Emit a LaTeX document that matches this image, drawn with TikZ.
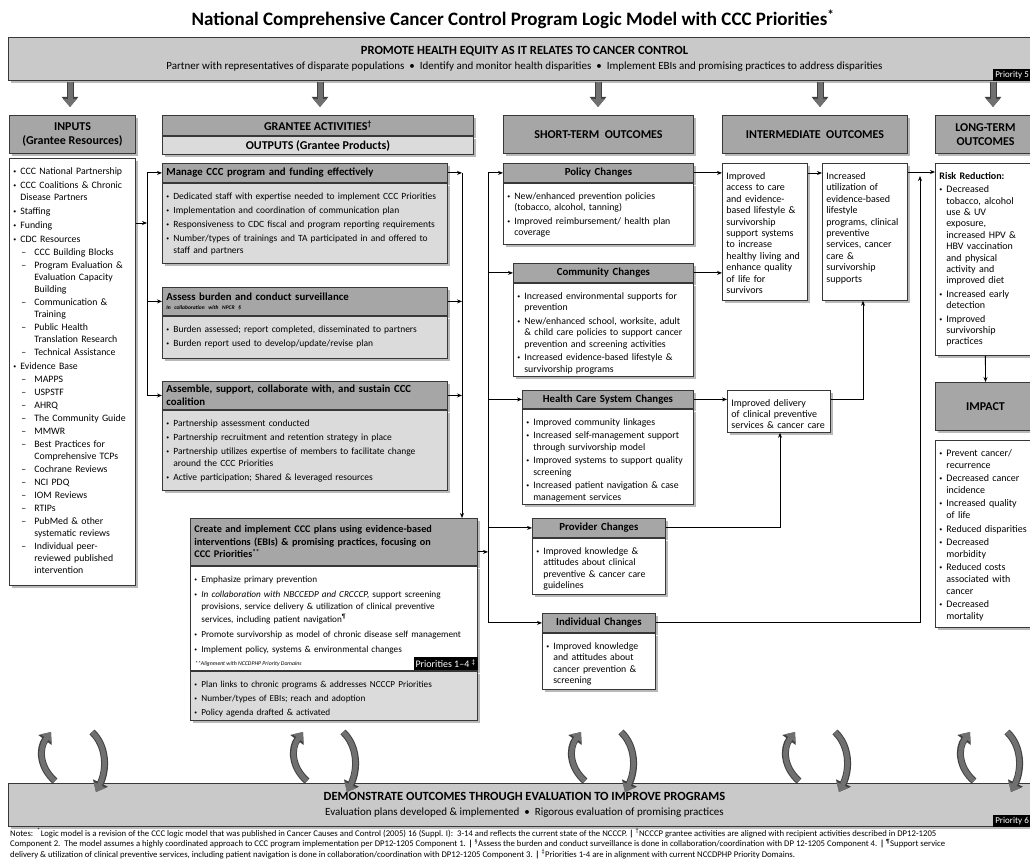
\documentclass[tikz,border=0pt]{standalone}
\usepackage{fontspec}
\setmainfont{Carlito}
\usetikzlibrary{arrows.meta, positioning, shadows, calc}

\definecolor{bandgray}{HTML}{C9C9C9}
\definecolor{headgray}{HTML}{A6A6A6}
\definecolor{bodygray}{HTML}{DBDBDB}
\definecolor{edgegray}{HTML}{383838}
\definecolor{fatgray}{HTML}{707070}

% bullet and dash items with hanging indent
\newcommand{\itemgap}{2pt}
\newcommand{\bul}[1]{\parskip=\itemgap\hangindent=7pt\hangafter=1\noindent\hbox to 7pt{\raisebox{1pt}{\scalebox{0.6}{\textbullet}}\hfil}{\let\\\newline #1}\par}
\newcommand{\dsh}[1]{\parskip=1pt\hangindent=21pt\hangafter=1\noindent\hbox to 8pt{}\hbox to 13pt{--\hfil}{\let\\\newline #1}\par}

\begin{document}
\begin{tikzpicture}[x=1pt, y=-1pt,
    dropshade/.style={drop shadow={shadow xshift=2.5pt, shadow yshift=-2.5pt, fill=black!55}},
    band/.style={draw=edgegray, fill=bandgray, line width=1pt, dropshade, anchor=north west, align=center},
    colhead/.style={draw=edgegray, fill=headgray, line width=1pt, dropshade, anchor=north west, align=center, font=\bfseries\fontsize{12}{14}\selectfont},
    boxhead/.code 2 args={\pgfmathsetmacro\bw{#1-8}\tikzset{draw=edgegray, fill=headgray, line width=0.8pt, dropshade, anchor=north west, align=left, inner sep=4pt, minimum width=#1, minimum height=#2, text width=\bw pt, font=\bfseries\fontsize{10.8}{12.5}\selectfont}},
    boxbody/.code 2 args={\pgfmathsetmacro\bw{#1-8}\pgfmathsetmacro\bd{#2-20}\tikzset{draw=edgegray, fill=white, line width=0.8pt, dropshade, anchor=north west, align=left, inner sep=4pt, text width=\bw pt, text height=12pt, text depth=\bd pt, font=\fontsize{9.8}{11.5}\selectfont}},
    link/.style={-{Stealth[length=5pt, width=4pt]}, line width=0.9pt},
    fat/.style={preaction={draw=black!75, line width=7pt, -{Triangle[length=10pt, width=16pt]}}, line width=5pt, draw=fatgray, -{Triangle[length=8pt, width=13pt]}},
    prio/.style={fill=black, text=white, inner sep=2pt, anchor=south east, font=\fontsize{9}{10}\selectfont}
]
\useasboundingbox (0,0) rectangle (1030,861);

% Title
\node[font=\bfseries\fontsize{19}{22}\selectfont] (title) at (513,19) {National Comprehensive Cancer Control Program Logic Model with CCC Priorities\textsuperscript{*}};

% Health equity band - Priority 5
\node[band, minimum width=1032, minimum height=43] (equity) at (8,37) {{\bfseries\fontsize{12.5}{13}\selectfont PROMOTE HEALTH EQUITY AS IT RELATES TO CANCER CONTROL}\\[3pt]{\fontsize{11}{12}\selectfont Partner with representatives of disparate populations \ \textbullet\ \ Identify and monitor health disparities \ \textbullet\ \ Implement EBIs and promising practices to address disparities}};
\node[prio] (prio5) at ([xshift=-10pt]equity.south east) {Priority 5};
\foreach \x in {70,320,598,820,993} {
    \draw[fat] (\x,82) -- (\x,107);
}

% Column headers
\node[colhead, minimum width=126, minimum height=38] (inputs) at (9,115) {INPUTS\\(Grantee Resources)};
\node[colhead, minimum width=311, minimum height=20] (activities) at (162,115) {GRANTEE ACTIVITIES\textsuperscript{\textdagger}};
\node[colhead, fill=bodygray, minimum width=311, minimum height=18] (outputs) at (activities.south west) {OUTPUTS (Grantee Products)};
\node[colhead, minimum width=190, minimum height=38] (shortterm) at (503,115) {SHORT-TERM\ \ OUTCOMES};
\node[colhead, minimum width=185, minimum height=38] (interm) at (722,115) {INTERMEDIATE\ \ OUTCOMES};
\node[colhead, minimum width=100, minimum height=38] (longterm) at (935,115) {LONG-TERM\\OUTCOMES};

% Inputs list
\node[boxbody={126}{427}, font=\fontsize{9.8}{12}\selectfont] (resources) at (9,158) {\bul{CCC National Partnership}
    \bul{CCC Coalitions \& Chronic\\Disease Partners}
    \bul{Staffing}
    \bul{Funding}
    \bul{CDC Resources}
    \dsh{CCC Building Blocks}
    \dsh{Program Evaluation \&\\Evaluation Capacity\\Building}
    \dsh{Communication \&\\Training}
    \dsh{Public Health\\Translation Research}
    \dsh{Technical Assistance}
    \bul{Evidence Base}
    \dsh{MAPPS}
    \dsh{USPSTF}
    \dsh{AHRQ}
    \dsh{The Community Guide}
    \dsh{MMWR}
    \dsh{Best Practices for\\Comprehensive TCPs}
    \dsh{Cochrane Reviews}
    \dsh{NCI PDQ}
    \dsh{IOM Reviews}
    \dsh{RTIPs}
    \dsh{PubMed \& other\\systematic reviews}
    \dsh{Individual peer-\\reviewed published\\intervention}};

% Grantee activities and outputs
\node[boxhead={285}{19}] (manage) at (162,163) {Manage CCC program and funding effectively};
\node[boxbody={285}{80}, fill=bodygray, font=\fontsize{9.5}{12}\selectfont] (managebody) at (manage.south west) {\bul{Dedicated staff with expertise needed to implement CCC Priorities}
    \bul{Implementation and coordination of communication plan}
    \bul{Responsiveness\ to CDC fiscal and program reporting requirements}
    \bul{Number/types of trainings and TA participated in and offered to\\staff and partners}};

\node[boxhead={285}{28}] (assess) at (162,287) {Assess burden and conduct surveillance\\[-3pt]{\fontsize{5.5}{6}\selectfont\itshape In collaboration with NPCR \S}};
\node[boxbody={285}{42}, fill=bodygray, font=\fontsize{9.5}{12}\selectfont] (assessbody) at (assess.south west) {\bul{Burden assessed; report completed, disseminated to partners}
    \bul{Burden report used to develop/update/revise plan}};

\node[boxhead={285}{27}] (assemble) at (162,381) {Assemble, support, collaborate with, and sustain CCC\\coalition};
\node[boxbody={285}{80}, fill=bodygray, font=\fontsize{9.5}{12}\selectfont] (assemblebody) at (assemble.south west) {\bul{Partnership assessment conducted}
    \bul{Partnership recruitment and retention strategy in place}
    \bul{Partnership utilizes expertise of members to facilitate change\\around the CCC Priorities}
    \bul{Active participation; Shared \& leveraged resources}};

\node[boxhead={287}{47}, font=\bfseries\fontsize{10.2}{12.5}\selectfont] (create) at (190,518) {Create and implement CCC plans using evidence-based\\interventions (EBIs) \& promising practices, focusing on\\CCC Priorities\textsuperscript{**}};
\node[boxbody={287}{104}, font=\fontsize{9.2}{12.3}\selectfont\def\itemgap{3pt}] (createbody) at (create.south west) {\bul{Emphasize primary prevention}
    \bul{\textit{In collaboration with NBCCEDP and CRCCCP,} support screening\\provisions,\ service delivery \& utilization of clinical preventive\\services, including patient navigation\textsuperscript{\P}}
    \bul{Promote survivorship as model of chronic disease self management}
    \bul{Implement policy, systems \& environmental changes}};
\node[anchor=south west, inner sep=0pt, font=\fontsize{5.8}{7}\selectfont\itshape] (alignnote) at ([xshift=5pt, yshift=4pt]createbody.south west) {**Alignment with NCCDPHP Priority Domains};
\node[prio, font=\fontsize{10}{11}\selectfont] (prio14) at ([yshift=0.5pt]createbody.south east) {Priorities 1--4 \textsuperscript{\textdaggerdbl}};
\node[boxbody={287}{49}, fill=bodygray, font=\fontsize{9.2}{12}\selectfont] (createout) at (createbody.south west) {\bul{Plan links to chronic programs \& addresses NCCCP Priorities}
    \bul{Number/types of EBIs; reach and adoption}
    \bul{Policy agenda drafted \& activated}};

% Short-term outcomes
\node[boxhead={190}{19}, align=center] (policy) at (503,163) {Policy Changes};
\node[boxbody={190}{61}] (policybody) at (policy.south west) {\bul{New/enhanced prevention policies\\(tobacco, alcohol, tanning)}
    \bul{Improved reimbursement/ health plan\\coverage}};

\node[boxhead={180}{19}, align=center] (community) at (513,263) {Community Changes};
\node[boxbody={180}{93}] (communitybody) at (community.south west) {\bul{Increased environmental supports for\\prevention}
    \bul{New/enhanced school, worksite, adult\\\& child care policies to support\ cancer\\prevention and screening activities}
    \bul{Increased evidence-based lifestyle \&\\survivorship programs}};

\node[boxhead={171}{18}, align=center] (health) at (522,390) {Health Care System Changes};
\node[boxbody={171}{95}] (healthbody) at (health.south west) {\bul{Improved community linkages}
    \bul{Increased self-management support\\through survivorship model}
    \bul{Improved systems to support\ quality\\screening}
    \bul{Increased patient navigation \& case\\management services}};

\node[boxhead={133}{19}, align=center] (provider) at (532,518) {Provider Changes};
\node[boxbody={133}{56}] (providerbody) at (provider.south west) {\bul{Improved knowledge \&\\attitudes about clinical\\preventive \& cancer care\\guidelines}};

\node[boxhead={113}{19}, align=center] (individual) at (542,613) {Individual Changes};
\node[boxbody={113}{56}] (individualbody) at (individual.south west) {\bul{Improved knowledge\\and attitudes about\\cancer prevention \&\\screening}};

% Intermediate outcomes
\node[boxbody={85}{137}, font=\fontsize{10}{11.4}\selectfont] (access) at (722,163) {Improved\\access to care\\and evidence-\\based lifestyle \&\\survivorship\\support systems\\to increase\\healthy living and\\enhance quality\\of life for\\survivors};
\node[boxbody={85}{137}, font=\fontsize{10}{11.4}\selectfont] (utilize) at (822,163) {Increased\\utilization of\\evidence-based\\lifestyle\\programs, clinical\\preventive\\services, cancer\\care \&\\survivorship\\supports};
\node[boxbody={103}{42}, font=\fontsize{10}{11.2}\selectfont] (delivery) at (727,390) {Improved delivery\\of clinical preventive\\services \& cancer care};

% Long-term outcomes and impact
\node[boxbody={100}{192}, font=\fontsize{10}{11.4}\selectfont] (risk) at (935,163) {\textbf{Risk Reduction:}\par
    \bul{Decreased\\tobacco, alcohol\\use \& UV\\exposure,\\increased HPV \&\\HBV vaccination\\and physical\\activity and\\improved diet}
    \bul{Increased early\\detection}
    \bul{Improved\\survivorship\\practices}};
\node[colhead, minimum width=100, minimum height=48] (impact) at (935,382) {IMPACT};
\node[boxbody={100}{187}, font=\fontsize{10}{11.6}\selectfont] (impactbody) at (935,440) {\bul{Prevent cancer/\\recurrence}
    \bul{Decreased cancer\\incidence}
    \bul{Increased quality\\of life}
    \bul{Reduced disparities}
    \bul{Decreased\\morbidity}
    \bul{Reduced costs\\associated with\\cancer}
    \bul{Decreased\\mortality}};

% Inputs feed the three activity boxes
\coordinate (inbus) at (147,223);
\draw[link] (resources.east |- inbus) -- (inbus);
\draw[line width=0.9pt] (inbus |- manage.west) -- (inbus |- assemble.west);
\foreach \n in {manage, assess, assemble} {
    \draw[link] (inbus |- \n.west) -- (\n.west);
}

% Activities collect into the CCC plan box
\coordinate (outbus) at (462,0);
\foreach \n in {manage, assess, assemble} {
    \draw[link] (\n.east) -- (outbus |- \n.east);
}
\draw[link] (outbus |- manage.east) -- (outbus |- create.north);

% Plan box feeds the short-term outcomes
\coordinate (stbus) at (488,0);
\coordinate (createout) at ([yshift=-10pt]create.east);
\draw[link] (createout) -- (stbus |- createout);
\draw[line width=0.9pt] (stbus |- policy.west) -- (stbus |- individual.west);
\foreach \n in {policy, community, health, provider, individual} {
    \draw[link] (stbus |- \n.west) -- (\n.west);
}

% Short-term to intermediate
\draw[link] (policy.east) -- (policy.east -| access.west);
\draw[link] (community.east) -- (community.east -| access.west);
\draw[link] (health.east) -- (health.east -| delivery.west);
\coordinate (provturn) at (780,0);
\draw[link] (provider.east) -- (provturn |- provider.east) -- (provturn |- delivery.south);

% Intermediate to long-term
\coordinate (accessout) at ([yshift=-10pt]access.north east);
\draw[link] (accessout) -- (accessout -| utilize.west);
\coordinate (utilout) at ([yshift=-9pt]utilize.north east);
\draw[link] (utilout) -- (utilout -| risk.west);
\coordinate (delturn) at (863,0);
\coordinate (deliveryout) at ([yshift=-9pt]delivery.north east);
\draw[link] (deliveryout) -- (delturn |- deliveryout) -- (delturn |- utilize.south);
\coordinate (ltbus) at (920,0);
\draw[link] (individual.east) -- (ltbus |- individual.east) -- ($(ltbus |- utilout)+(0,4)$);
\draw[link] (risk.south) -- (impact.north);

% Evaluation band - Priority 6
\node[band, minimum width=1032, minimum height=43] (evaluate) at (8,783) {{\bfseries\fontsize{12.5}{13}\selectfont DEMONSTRATE OUTCOMES THROUGH EVALUATION TO IMPROVE PROGRAMS}\\[3pt]{\fontsize{11}{12}\selectfont Evaluation plans developed \& implemented \ \textbullet\ \ Rigorous evaluation of promising practices}};
\node[prio] (prio6) at ([xshift=-10pt]evaluate.south east) {Priority 6};

% Feedback arrows between the columns and the evaluation band
\foreach \a/\b in {48/97, 300/348, 578/626, 792/840, 967/1012} {
    \draw[fat] (\a+7,781) .. controls (\a-9,767) and (\a-9,748) .. (\a+3,732);
    \draw[fat] (\b-5,732) .. controls (\b+10,746) and (\b+10,770) .. (\b-1,792);
}

% Notes
\node[anchor=north west, align=left, inner sep=0pt, font=\fontsize{8.7}{8.8}\selectfont] (notes) at (10,828) {Notes:\ \ \textsuperscript{*}Logic model is a revision of the CCC logic model that was published in Cancer Causes and Control (2005) 16 (Suppl. I):\ \ 3-14 and reflects the current state of the NCCCP. \textbf{|} \textsuperscript{\textdagger}NCCCP grantee activities are aligned with recipient activities described in DP12-1205\\
Component 2.\ \ The model assumes a highly coordinated approach to CCC program implementation per DP12-1205 Component 1. \textbf{|} \textsuperscript{\S}Assess the burden and conduct surveillance is done in collaboration/coordination with DP 12-1205 Component 4. \textbf{|} \textsuperscript{\P}Support service\\
delivery \& utilization of clinical preventive services, including patient navigation is done in collaboration/coordination with DP12-1205 Component 3. \textbf{|} \textsuperscript{\textdaggerdbl}Priorities 1-4 are in alignment with current NCCDPHP Priority Domains.};
\end{tikzpicture}
\end{document}
